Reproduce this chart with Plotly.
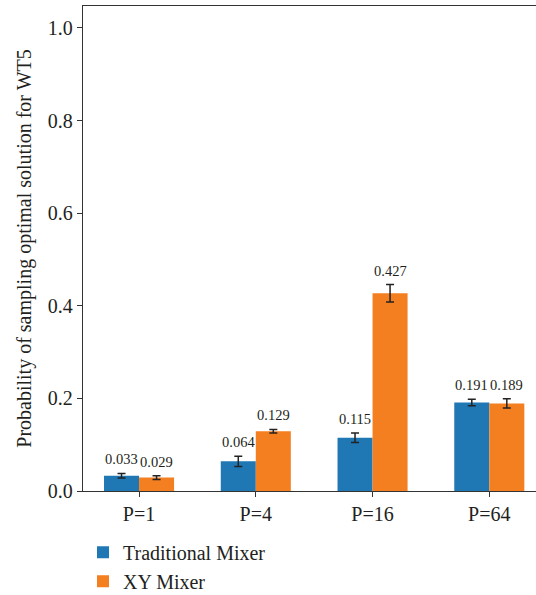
import plotly.graph_objects as go

categories = ["P=1", "P=4", "P=16", "P=64"]
traditional = [0.033, 0.064, 0.115, 0.191]
traditional_err = [0.005, 0.011, 0.010, 0.007]
xy = [0.029, 0.129, 0.427, 0.189]
xy_err = [0.004, 0.004, 0.019, 0.010]
yticks = [0.0, 0.2, 0.4, 0.6, 0.8, 1.0]

FONT = "Liberation Serif, Times New Roman, serif"
TXT = "#231f20"
BLUE = "#1f77b4"
ORANGE = "#f47f20"

xpos = list(range(len(categories)))

fig = go.Figure()
fig.add_trace(go.Bar(
    x=xpos, y=traditional, name="Traditional Mixer", marker_color=BLUE,
    marker_line_width=0,
    error_y=dict(type="data", array=traditional_err, color="#222", thickness=1.5, width=4),
))
fig.add_trace(go.Bar(
    x=xpos, y=xy, name="XY Mixer", marker_color=ORANGE,
    marker_line_width=0,
    error_y=dict(type="data", array=xy_err, color="#222", thickness=1.5, width=4),
))

bw = 0.3
for i in xpos:
    for vals, errs, off in ((traditional, traditional_err, -bw / 2), (xy, xy_err, bw / 2)):
        fig.add_annotation(
            x=i + off, y=vals[i] + errs[i], text=f"{vals[i]:.3f}",
            showarrow=False, yanchor="bottom", yshift=4,
            font=dict(family=FONT, size=14.5, color=TXT),
        )

fig.update_layout(
    width=536, height=595,
    margin=dict(l=83, r=0, t=6, b=104, autoexpand=False),
    barmode="group", bargap=0.4, bargroupgap=0,
    plot_bgcolor="white", paper_bgcolor="white",
    font=dict(family=FONT, size=20, color=TXT),
    showlegend=True,
    legend=dict(
        x=0, xanchor="left", y=-0.086, yanchor="top",
        font=dict(family=FONT, size=20, color=TXT),
        bgcolor="rgba(0,0,0,0)", tracegroupgap=0,
    ),
)
fig.update_xaxes(
    range=[-0.48, 3.40], tickmode="array", tickvals=xpos, ticktext=categories,
    showgrid=False, zeroline=False, showline=True, linecolor="#333", linewidth=1.3,
    mirror=True, ticks="outside", ticklen=5, tickcolor="#333", tickwidth=1.3,
    tickfont=dict(family=FONT, size=20, color=TXT), automargin=False,
)
fig.update_yaxes(
    range=[0, 1.0475], tickmode="array", tickvals=yticks,
    ticktext=[f"{v:.1f}" for v in yticks],
    showgrid=False, zeroline=False, showline=True, linecolor="#333", linewidth=1.3,
    ticks="outside", ticklen=5, tickcolor="#333", tickwidth=1.3,
    tickfont=dict(family=FONT, size=20, color=TXT), automargin=False,
    title=dict(text="Probability of sampling optimal solution for WT5",
               font=dict(family=FONT, size=20, color=TXT), standoff=10),
)

fig.write_html("out.html")
